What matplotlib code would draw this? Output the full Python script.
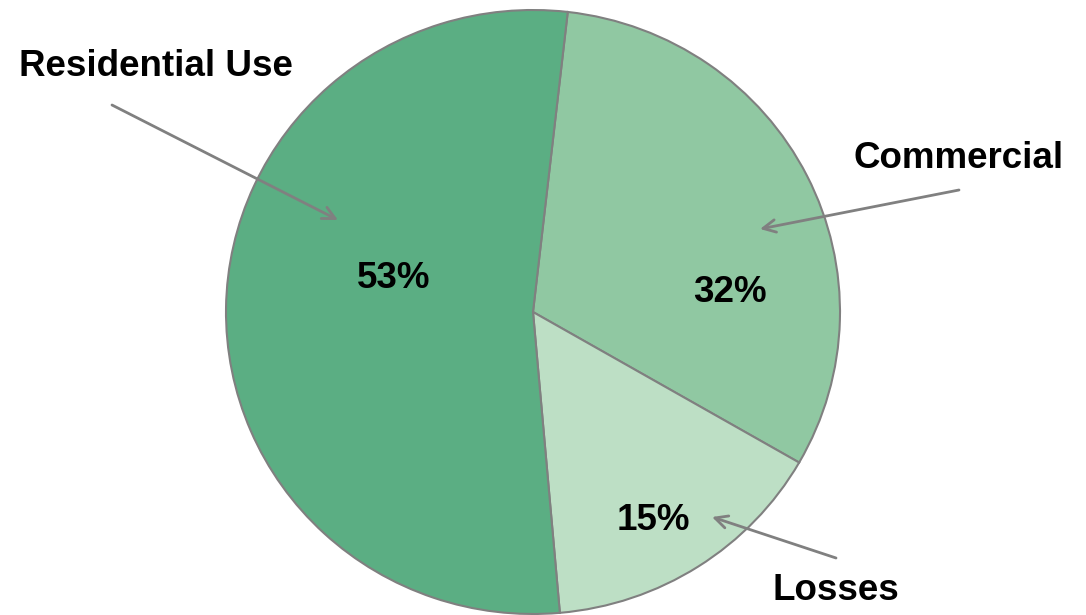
import matplotlib.pyplot as plt

plt.rcParams['font.family'] = ['Liberation Sans', 'DejaVu Sans']

# data, clockwise from the top
categories = ['Commercial', 'Losses', 'Residential Use']
shares = [31.5, 15.3, 53.2]
colors = ['#90C8A2', '#BDDFC5', '#5BAE83']

W, H = 1086, 615

fig = plt.figure(figsize=(W / 100, H / 100), dpi=100)
ax = fig.add_axes([0, 0, 1, 1])

# the pie in the reference is a touch wider than tall
rx, ry = 307, 302
yscale = rx / ry


def py(y):
    # pixel row -> data y
    return (H - y) * yscale


cx, cy = 533, py(312)
ax.pie(shares, colors=colors, startangle=83.5, counterclock=False,
       center=(cx, cy), radius=rx, frame=True,
       wedgeprops={'edgecolor': '#808080', 'linewidth': 1.5})
ax.set_aspect('auto')
ax.set_xlim(0, W)
ax.set_ylim(0, H * yscale)
ax.axis('off')

# percentage labels
pct_pos = {'Commercial': (730, 293), 'Losses': (653, 520), 'Residential Use': (394, 278)}
for cat, val in zip(categories, shares):
    x, y = pct_pos[cat]
    ax.text(x, py(y), f'{val:.0f}%', ha='center', va='center',
            fontsize=26.5, fontweight='bold', color='black')

# category labels with arrows
name_pos = {'Commercial': (959, 158), 'Losses': (836, 590), 'Residential Use': (156, 66)}
arrows = {'Commercial': ((959, 190), (760, 229)),
          'Losses': ((836, 558), (712, 517)),
          'Residential Use': ((112, 105), (338, 220))}
for cat in categories:
    x, y = name_pos[cat]
    ax.text(x, py(y), cat, ha='center', va='center',
            fontsize=26.5, fontweight='bold', color='black')
    (x0, y0), (x1, y1) = arrows[cat]
    ax.annotate('', xy=(x1, py(y1)), xytext=(x0, py(y0)),
                arrowprops=dict(arrowstyle='->,head_length=0.9,head_width=0.45',
                                color='#808080', lw=2, shrinkA=0, shrinkB=0))

fig.savefig('out.png', dpi=100)
